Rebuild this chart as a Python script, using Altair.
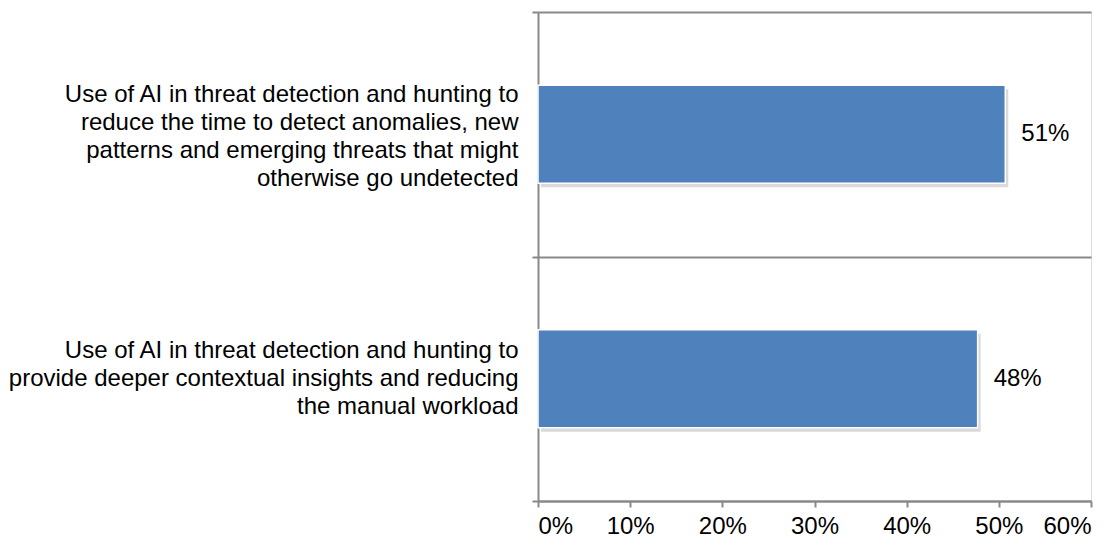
import altair as alt
import pandas as pd

categories = [
    "Use of AI in threat detection and hunting to|reduce the time to detect anomalies, new|patterns and emerging threats that might|otherwise go undetected",
    "Use of AI in threat detection and hunting to|provide deeper contextual insights and reducing|the manual workload",
]
values = [50.7, 47.7]
labels = ["51%", "48%"]

df = pd.DataFrame({"cat": categories, "val": values, "lab": labels})

FONT = "Liberation Sans"
GRAY = "#898989"
FS = 24
LH = 28

y_enc = alt.Y(
    "cat:N",
    sort=categories,
    title=None,
    scale=alt.Scale(paddingInner=0, paddingOuter=0),
    axis=alt.Axis(
        labelExpr="split(datum.label, '|')",
        labelFontSize=FS,
        labelFont=FONT,
        labelColor="#000000",
        labelLineHeight=LH,
        labelPadding=14,
        labelLimit=600,
        labelOffset={
            "condition": {
                "test": "length(split(datum.value, '|')) == 4",
                "value": -40,
            },
            "value": -28,
        },
        tickBand="extent",
        tickSize=6,
        tickColor=GRAY,
        tickWidth=2,
        domainColor=GRAY,
        domainWidth=2,
        grid=True,
        gridColor=GRAY,
        gridWidth=2,
    ),
)

x_scale = alt.Scale(domain=[0, 60], nice=False)
x_enc = alt.X(
    "val:Q",
    scale=x_scale,
    title=None,
    axis=alt.Axis(
        values=[0, 10, 20, 30, 40, 50, 60],
        labelExpr="datum.value + '%'",
        labelFontSize=FS,
        labelFont=FONT,
        labelColor="#000000",
        labelPadding=7,
        tickSize=6,
        tickColor=GRAY,
        tickWidth=2,
        domainColor=GRAY,
        domainWidth=2,
        grid=False,
    ),
)

base = alt.Chart(df)

shadow = base.mark_bar(
    color="#000000", opacity=0.15, xOffset=3, yOffset=4, x2Offset=3,
    height={"band": 0.4},
).encode(x=x_enc, y=y_enc)

bars = base.mark_bar(
    color="#4F81BD", stroke="#FFFFFF", strokeWidth=1.5, height={"band": 0.4}
).encode(x=x_enc, y=y_enc)

text = base.mark_text(
    align="left", baseline="middle", dx=16, fontSize=FS, font=FONT, color="#000000"
).encode(x=x_enc, y=y_enc, text="lab:N")

chart = (
    alt.layer(shadow, bars, text)
    .properties(
        width=553,
        height=489,
        padding={"left": 538, "top": 12, "right": 25, "bottom": 40},
        autosize=alt.AutoSizeParams(type="none"),
    )
    .configure_view(stroke=None)
    .configure(background="#FFFFFF")
)

chart.save("out.html", embed_options={"renderer": "svg", "actions": False})
